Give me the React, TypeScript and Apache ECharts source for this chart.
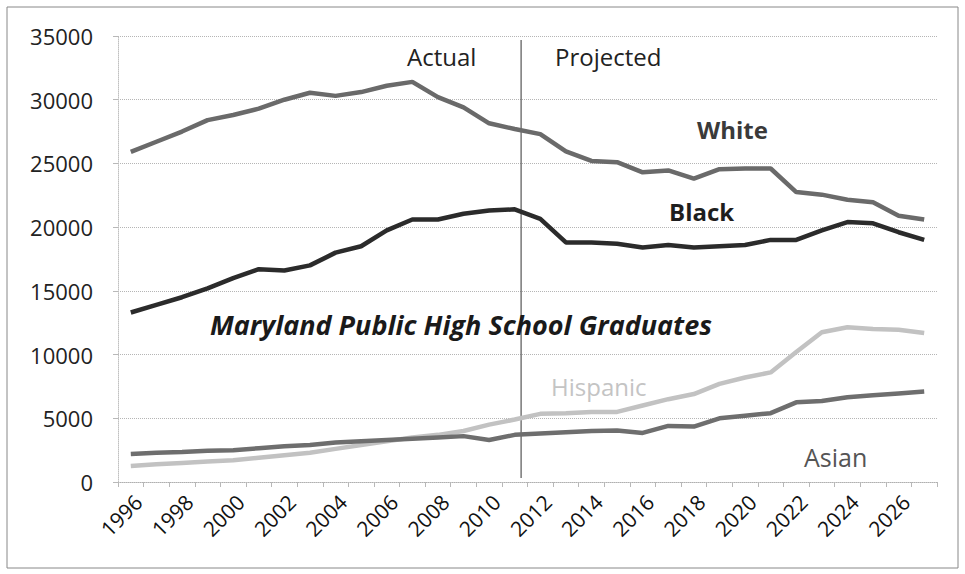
import React, { useEffect, useRef } from "react";
import * as echarts from "echarts";

const years = [
  "1996","1997","1998","1999","2000","2001","2002","2003","2004","2005","2006",
  "2007","2008","2009","2010","2011","2012","2013","2014","2015","2016","2017",
  "2018","2019","2020","2021","2022","2023","2024","2025","2026","2027",
];
const white = [
  25900, 26700, 27500, 28400, 28800, 29300, 30000, 30550, 30300, 30600, 31100,
  31400, 30200, 29400, 28150, 27700, 27300, 25950, 25200, 25100, 24300, 24450,
  23800, 24550, 24600, 24600, 22750, 22550, 22150, 21950, 20900, 20600,
];
const black = [
  13300, 13900, 14500, 15200, 16000, 16700, 16600, 17000, 18000, 18500, 19750,
  20600, 20600, 21050, 21300, 21400, 20650, 18800, 18800, 18700, 18400, 18600,
  18400, 18500, 18600, 19000, 19000, 19750, 20400, 20300, 19600, 19000,
];
const hispanic = [
  1250, 1400, 1500, 1600, 1700, 1900, 2100, 2300, 2600, 2900, 3200,
  3500, 3700, 4000, 4500, 4900, 5350, 5400, 5500, 5500, 6000, 6500,
  6900, 7700, 8200, 8600, 10200, 11750, 12150, 12000, 11950, 11700,
];
const asian = [
  2200, 2300, 2350, 2450, 2500, 2650, 2800, 2900, 3100, 3200, 3300,
  3400, 3500, 3600, 3300, 3700, 3800, 3900, 4000, 4050, 3850, 4400,
  4350, 5000, 5200, 5400, 6250, 6350, 6650, 6800, 6950, 7100,
];
const yTicks = { min: 0, max: 35000, interval: 5000 };

const FONT = "'Open Sans', 'Liberation Sans', sans-serif";

export default function App() {
  const ref = useRef<HTMLDivElement>(null);
  useEffect(() => {
    if (!ref.current) return;
    const chart = echarts.init(ref.current, undefined, { renderer: "svg" });
    const mk = (name: string, data: number[], color: string, z: number) => ({
      name,
      type: "line",
      data,
      symbol: "none",
      smooth: false,
      z,
      lineStyle: { color, width: 4.5 },
    });
    chart.setOption({
      animation: false,
      backgroundColor: "#ffffff",
      grid: { left: 118, right: 28, top: 36, bottom: 92 },
      xAxis: {
        type: "category",
        data: years,
        boundaryGap: true,
        axisLine: { lineStyle: { color: "#b0b0b0", type: "dotted" } },
        axisTick: { show: true, interval: 0, length: 5, lineStyle: { color: "#b8b8b8" } },
        axisLabel: {
          interval: 1,
          rotate: 45,
          fontSize: 21,
          color: "#111",
          fontFamily: FONT,
          margin: 9,
          verticalAlign: "top",
        },
        splitLine: { show: false },
      },
      yAxis: {
        type: "value",
        min: yTicks.min,
        max: yTicks.max,
        interval: yTicks.interval,
        axisLine: { show: true, lineStyle: { color: "#c0c0c0", type: "dotted" } },
        axisTick: { show: true, length: 5, lineStyle: { color: "#b8b8b8" } },
        axisLabel: {
          fontSize: 22,
          color: "#222",
          fontFamily: FONT,
          margin: 25,
          formatter: (v: number) => String(v),
        },
        splitLine: { lineStyle: { color: "#b5b5b5", type: "dotted", width: 1 } },
      },
      series: [
        mk("Hispanic", hispanic, "#c2c2c2", 2),
        mk("Asian", asian, "#6e6e6e", 3),
        mk("Black", black, "#2b2b2b", 4),
        mk("White", white, "#6a6a6a", 5),
      ],
    });

    const p11 = chart.convertToPixel({ xAxisIndex: 0 }, "2011") as number;
    const p12 = chart.convertToPixel({ xAxisIndex: 0 }, "2012") as number;
    const divX = p11 + 0.25 * (p12 - p11);
    const text = (t: string, x: number, y: number, size: number, color: string, weight = "normal", style = "normal") => ({
      type: "text",
      left: x,
      top: y,
      style: { text: t, fontSize: size, fill: color, fontFamily: FONT, fontWeight: weight, fontStyle: style },
    });
    chart.setOption({
      graphic: [
        { type: "rect", shape: { x: 7, y: 7, width: 951, height: 561 }, style: { fill: "none", stroke: "#888", lineWidth: 1 } },
        { type: "line", shape: { x1: divX, y1: 40, x2: divX, y2: 478 }, style: { stroke: "#555", lineWidth: 1.2 } },
        text("Actual", 407, 44, 24, "#222"),
        text("Projected", 555, 44, 24, "#222"),
        text("White", 697, 117, 24, "#3a3a3a", "bold"),
        text("Black", 669, 199, 24, "#1e1e1e", "bold"),
        text("Maryland Public High School Graduates", 210, 311, 27, "#1a1a1a", "bold", "italic"),
        text("Hispanic", 551, 374, 24, "#c4c4c4"),
        text("Asian", 804, 444, 25, "#555"),
      ],
    });
    return () => chart.dispose();
  }, []);
  return (
    <div
      ref={ref}
      style={{ position: "fixed", left: 0, top: 0, width: 965, height: 574, background: "#fff" }}
    />
  );
}
